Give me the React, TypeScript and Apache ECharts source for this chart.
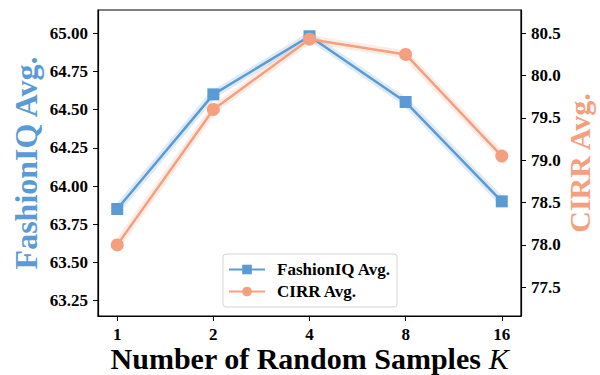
import React, { useEffect, useRef } from "react";
import * as echarts from "echarts";

const kLabels = ["1", "2", "4", "8", "16"];
const fashionIQ = [63.85, 64.6, 64.98, 64.55, 63.9];
const cirr = [78.0, 79.6, 80.43, 80.25, 79.05];
const leftTicks = [63.25, 63.5, 63.75, 64.0, 64.25, 64.5, 64.75, 65.0];
const rightTicks = [77.5, 78.0, 78.5, 79.0, 79.5, 80.0, 80.5];

const BLUE = "#5b9bd5";
const ORANGE = "#f4a07e";
const FONT = "Liberation Serif";

export default function App() {
  const ref = useRef<HTMLDivElement>(null);
  useEffect(() => {
    document.body.style.margin = "0";
    if (!ref.current) return;
    const chart = echarts.init(ref.current, undefined, { renderer: "svg" });
    const idx = kLabels.map((_, i) => i);
    const fData = fashionIQ.map((v, i) => [i, v]);
    const cData = cirr.map((v, i) => [i, v]);
    const tickLabel = { fontFamily: FONT, fontWeight: "bold", fontSize: 17, lineHeight: 17, color: "#000" };
    chart.setOption({
      animation: false,
      grid: {
        left: 98,
        right: 79,
        top: 10,
        bottom: 59,
        containLabel: false,
        outerBoundsMode: "none",
        show: true,
        borderColor: "#000",
        borderWidth: 1.2,
      },
      legend: {
        orient: "vertical",
        left: 223,
        top: 254,
        padding: [7, 6, 7, 5],
        itemGap: 5,
        itemWidth: 36,
        itemHeight: 12,
        borderColor: "#d5d5d5",
        borderWidth: 1,
        borderRadius: 3,
        backgroundColor: "#fff",
        data: ["FashionIQ Avg.", "CIRR Avg."],
        textStyle: {
          fontFamily: FONT,
          fontWeight: "bold",
          fontSize: 17,
          color: "#000",
          padding: [0, 0, 0, 7],
        },
      },
      xAxis: {
        type: "value",
        min: -0.2,
        max: 4.2,
        splitLine: { show: false },
        axisLine: { show: true, onZero: false, lineStyle: { color: "#000", width: 1.2 } },
        axisTick: { show: true, length: 5, customValues: idx, lineStyle: { color: "#000" } },
        axisLabel: {
          ...tickLabel,
          margin: 10,
          customValues: idx,
          formatter: (v: number) => kLabels[Math.round(v)] ?? "",
        },
        name: "{a|Number of Random Samples }{b|K}",
        nameLocation: "middle",
        nameGap: 29,
        nameMoveOverlap: false,
        nameTextStyle: {
          rich: {
            a: { fontFamily: FONT, fontWeight: "bold", fontSize: 30, lineHeight: 27, color: "#000" },
            b: { fontFamily: FONT, fontStyle: "italic", fontSize: 30, lineHeight: 27, color: "#000" },
          },
        },
      },
      yAxis: [
        {
          type: "value",
          min: 63.15,
          max: 65.152,
          position: "left",
          splitLine: { show: false },
          axisLine: { show: true, onZero: false, lineStyle: { color: "#000", width: 1.2 } },
          axisTick: { show: true, length: 5, customValues: leftTicks, lineStyle: { color: "#000" } },
          axisLabel: {
            ...tickLabel,
            margin: 10,
            customValues: leftTicks,
            formatter: (v: number) => v.toFixed(2),
          },
          name: "FashionIQ Avg.",
          nameLocation: "middle",
          nameGap: 56,
          nameMoveOverlap: false,
          nameTextStyle: { fontFamily: FONT, fontWeight: "bold", fontSize: 32, color: BLUE },
        },
        {
          type: "value",
          min: 77.16,
          max: 80.775,
          position: "right",
          splitLine: { show: false },
          axisLine: { show: true, onZero: false, lineStyle: { color: "#000", width: 1.2 } },
          axisTick: { show: true, length: 5, customValues: rightTicks, lineStyle: { color: "#000" } },
          axisLabel: {
            ...tickLabel,
            margin: 10,
            customValues: rightTicks,
            formatter: (v: number) => v.toFixed(1),
          },
          name: "CIRR Avg.",
          nameLocation: "middle",
          nameGap: 43,
          nameMoveOverlap: false,
          nameTextStyle: { fontFamily: FONT, fontWeight: "bold", fontSize: 30, color: ORANGE },
        },
      ],
      series: [
        {
          name: "glow1",
          type: "line",
          yAxisIndex: 0,
          data: fData,
          symbol: "none",
          silent: true,
          lineStyle: { color: BLUE, width: 8, opacity: 0.2 },
          z: 1,
        },
        {
          name: "glow2",
          type: "line",
          yAxisIndex: 1,
          data: cData,
          symbol: "none",
          silent: true,
          lineStyle: { color: ORANGE, width: 8, opacity: 0.2 },
          z: 1,
        },
        {
          name: "FashionIQ Avg.",
          type: "line",
          yAxisIndex: 0,
          data: fData,
          symbol: "rect",
          symbolSize: 12,
          itemStyle: { color: BLUE },
          lineStyle: { color: BLUE, width: 2.5 },
          z: 3,
        },
        {
          name: "CIRR Avg.",
          type: "line",
          yAxisIndex: 1,
          data: cData,
          symbol: "circle",
          symbolSize: 13,
          itemStyle: { color: ORANGE },
          lineStyle: { color: ORANGE, width: 2.5 },
          z: 4,
        },
      ],
    });
    return () => chart.dispose();
  }, []);
  return <div ref={ref} style={{ width: 600, height: 375 }} />;
}
